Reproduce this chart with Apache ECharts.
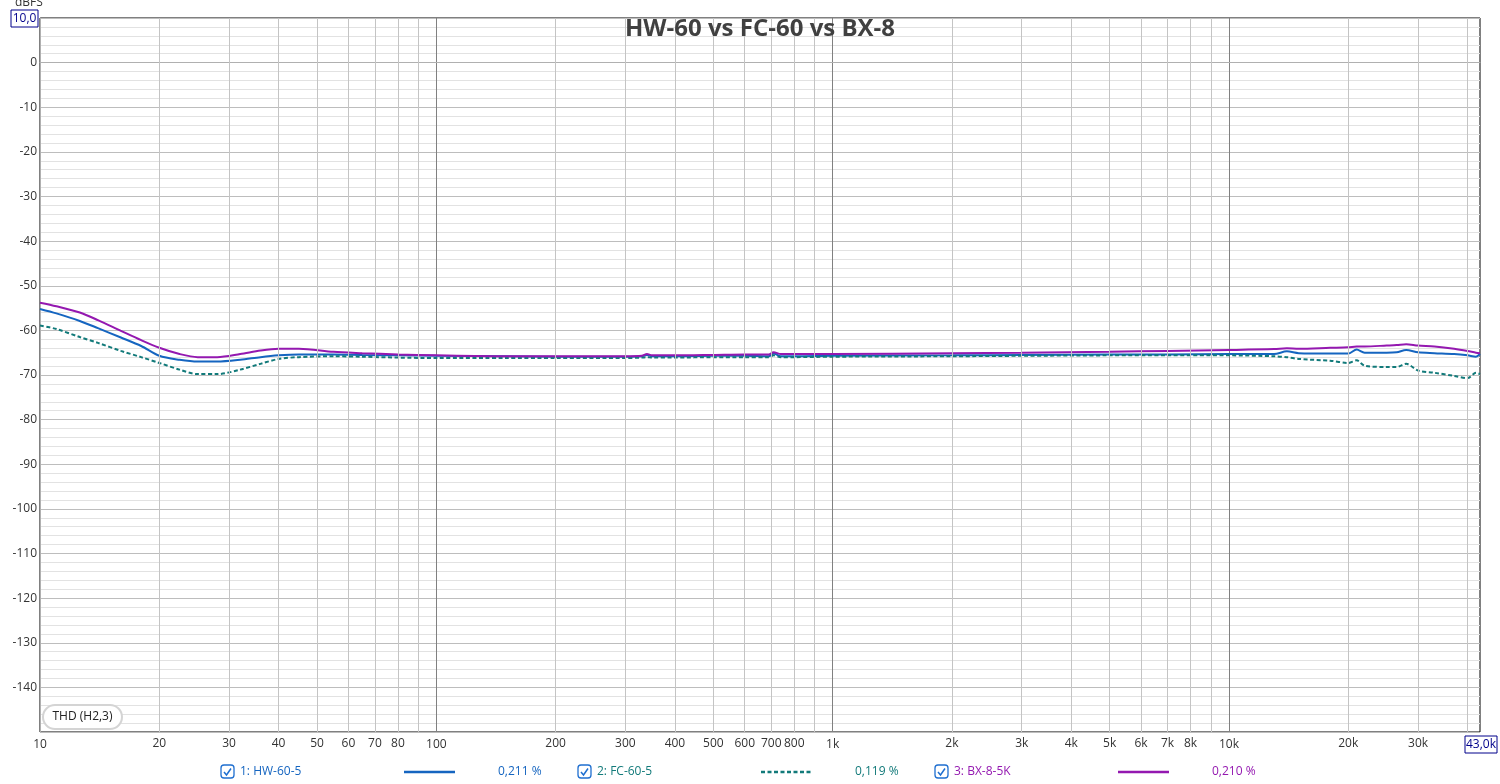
<!DOCTYPE html>
<html><head><meta charset="utf-8">
<script src="https://cdn.jsdelivr.net/npm/echarts@6/dist/echarts.min.js"></script>
<style>html,body{margin:0;padding:0;background:#fff}#c{width:1500px;height:784px}</style>
</head><body><div id="c"></div>
<script>
const title = 'HW-60 vs FC-60 vs BX-8';
const freqs = [10, 11, 12.6, 14, 16, 18, 20, 22.5, 25, 28, 32, 36, 40, 45, 55, 65, 80, 100, 150, 200, 300, 330, 340, 350, 400, 500, 600, 690, 710, 740, 800, 1000, 2000, 3000, 5000, 7000, 10000, 13000, 14000, 15000, 18000, 20000, 21000, 22000, 25000, 26500, 28000, 30000, 33000, 37000, 40000, 42000, 43000];
const hw60 = [-55.2, -56.2, -57.9, -59.5, -61.6, -63.5, -65.7, -66.6, -67.0, -67.0, -66.6, -66.0, -65.6, -65.4, -65.4, -65.5, -65.6, -65.7, -65.8, -65.9, -65.9, -65.8, -65.5, -65.8, -65.8, -65.7, -65.7, -65.8, -65.2, -65.8, -65.8, -65.7, -65.6, -65.5, -65.4, -65.4, -65.3, -65.3, -64.7, -65.1, -65.2, -65.2, -64.3, -65.0, -65.0, -64.9, -64.4, -64.9, -65.1, -65.3, -65.6, -65.9, -65.3];
const fc60 = [-58.9, -59.7, -61.5, -62.8, -64.6, -66.0, -67.3, -68.8, -69.8, -69.8, -68.8, -67.5, -66.4, -66.0, -65.8, -65.9, -66.1, -66.2, -66.2, -66.2, -66.2, -66.1, -66.0, -66.1, -66.1, -66.0, -66.0, -66.0, -65.6, -66.0, -66.0, -65.9, -65.8, -65.7, -65.6, -65.6, -65.6, -65.8, -66.0, -66.4, -66.8, -67.3, -66.7, -67.9, -68.2, -68.2, -67.5, -69.0, -69.5, -70.2, -70.7, -69.5, -69.8];
const bx8 = [-53.8, -54.6, -56.0, -57.7, -60.1, -62.2, -63.9, -65.3, -66.0, -66.0, -65.3, -64.5, -64.1, -64.1, -64.8, -65.1, -65.4, -65.6, -65.8, -65.8, -65.8, -65.7, -65.3, -65.6, -65.6, -65.5, -65.4, -65.4, -64.9, -65.3, -65.3, -65.3, -65.1, -65.0, -64.8, -64.6, -64.4, -64.2, -64.0, -64.1, -63.9, -63.8, -63.6, -63.6, -63.4, -63.3, -63.1, -63.4, -63.6, -64.1, -64.6, -65.0, -65.1];
const seriesNames = ['1: HW-60-5', '2: FC-60-5', '3: BX-8-5K'];
const seriesPct = ['0,211 %', '0,119 %', '0,210 %'];
const seriesColors = ['#1565c0', '#127a7a', '#9418b0'];
const minorGridFreqs = [20,30,40,50,60,70,80,90,200,300,400,500,600,700,800,900,2000,3000,4000,5000,6000,7000,8000,9000,20000,30000,40000];
const labeledFreqs = [20,30,40,50,60,70,80,200,300,400,500,600,700,800,2000,3000,4000,5000,6000,7000,8000,20000,30000];
const decadeLabels = {10:'10', 100:'100', 1000:'1k', 10000:'10k'};
const yTickMin = -150, yTickMax = 10, yTickStep = 10;

function fmtF(f){ return f >= 1000 ? (f/1000) + 'k' : String(f); }
const pair = (a) => freqs.map((f,i)=>[f,a[i]]);
const FONT = 'Open Sans, Noto Sans, sans-serif';

const chart = echarts.init(document.getElementById('c'), null, {renderer:'canvas'});

const legendGraphics = [];
const lx = [227, 584, 941];
seriesNames.forEach((n,i)=>{
  const x = lx[i], y = 772, col = seriesColors[i];
  legendGraphics.push({type:'rect', shape:{x:x-6, y:y-7, width:13, height:13, r:3}, style:{fill:'#fff', stroke:'#1f6fd0', lineWidth:1.3}});
  legendGraphics.push({type:'polyline', shape:{points:[[x-3,y],[x-0.5,y+3],[x+4,y-3.5]]}, style:{stroke:'#1f6fd0', lineWidth:1.5, fill:null}});
  legendGraphics.push({type:'text', x:x+13, y:y, style:{text:n, fill:col, font:'12px '+FONT, textVerticalAlign:'middle'}});
  legendGraphics.push({type:'line', shape:{x1:x+177, y1:y, x2:x+228, y2:y}, style:{stroke:col, lineWidth:2.5, lineDash: i===1?[4,2.5]:null}});
  legendGraphics.push({type:'text', x:x+271, y:y, style:{text:seriesPct[i], fill:col, font:'12px '+FONT, textVerticalAlign:'middle'}});
});

const option = {
  animation:false,
  backgroundColor:'#fff',
  grid:{left:40, right:20, top:18, bottom:52, show:true, borderColor:'#000', borderWidth:1, backgroundColor:'#fff'},
  xAxis:{type:'log', logBase:10, min:10, max:43000,
    axisLine:{show:true, lineStyle:{color:'#b0b0b0'}}, axisTick:{show:false},
    axisLabel:{color:'#333', fontSize:12, fontFamily:FONT, margin:7, showMaxLabel:false,
      formatter:(v)=> decadeLabels[Math.round(v)] || ''},
    splitLine:{show:true, lineStyle:{color:'#808080', width:1}}},
  yAxis:{type:'value', min:yTickMin, max:yTickMax, interval:yTickStep,
    axisLine:{show:true, lineStyle:{color:'#b0b0b0'}}, axisTick:{show:false},
    axisLabel:{color:'#333', fontSize:12, fontFamily:FONT, margin:3,
      formatter:(v)=> (v===yTickMax||v===yTickMin)?'':String(v)},
    splitLine:{show:true, lineStyle:{color:'#bdbdbd'}},
    minorTick:{show:false, splitNumber:5},
    minorSplitLine:{show:true, lineStyle:{color:'#e2e2e2'}}},
  graphic:[
    {type:'text', x:760, y:29, z:10, style:{text:title, fill:'#404040', font:'bold 24px '+FONT, textAlign:'center', textVerticalAlign:'middle'}},
    {type:'text', x:15, y:-3, style:{text:'dBFS', fill:'#333', font:'12px '+FONT}},
    {type:'rect', shape:{x:11, y:10, width:27, height:17}, style:{fill:'#fff', stroke:'#00008b', lineWidth:1}},
    {type:'text', x:24.5, y:18.5, style:{text:'10,0', fill:'#00008b', font:'12px '+FONT, textAlign:'center', textVerticalAlign:'middle'}},
    {type:'rect', shape:{x:1465, y:736, width:32, height:17}, style:{fill:'#fff', stroke:'#00008b', lineWidth:1}},
    {type:'text', x:1481, y:744.5, style:{text:'43,0k', fill:'#00008b', font:'12px '+FONT, textAlign:'center', textVerticalAlign:'middle'}},
    {type:'rect', z:10, shape:{x:43, y:705, width:79, height:24, r:12}, style:{fill:'#fff', stroke:'#d4d4d4', lineWidth:2}},
    {type:'text', z:11, x:82.5, y:717, style:{text:'THD (H2,3)', fill:'#222', font:'12px '+FONT, textAlign:'center', textVerticalAlign:'middle'}},
    ...legendGraphics
  ],
  series:[
    {type:'line', name:'grid', data:[], z:1, silent:true,
      markLine:{silent:true, symbol:'none', animation:false,
        lineStyle:{color:'#c4c4c4', type:'solid', width:1},
        data: minorGridFreqs.map(f=>({xAxis:f,
          label:{show: labeledFreqs.includes(f), position:'start', distance:6, formatter: fmtF(f), color:'#333', fontSize:12, fontFamily:FONT}}))}},
    {type:'line', name:seriesNames[0], data:pair(hw60), smooth:0.3, showSymbol:false, z:3, lineStyle:{color:seriesColors[0], width:2}},
    {type:'line', name:seriesNames[1], data:pair(fc60), smooth:0.3, showSymbol:false, z:3, lineStyle:{color:seriesColors[1], width:2, type:[4,2.5]}},
    {type:'line', name:seriesNames[2], data:pair(bx8), smooth:0.3, showSymbol:false, z:4, lineStyle:{color:seriesColors[2], width:2}}
  ]
};
chart.setOption(option);
</script></body></html>
